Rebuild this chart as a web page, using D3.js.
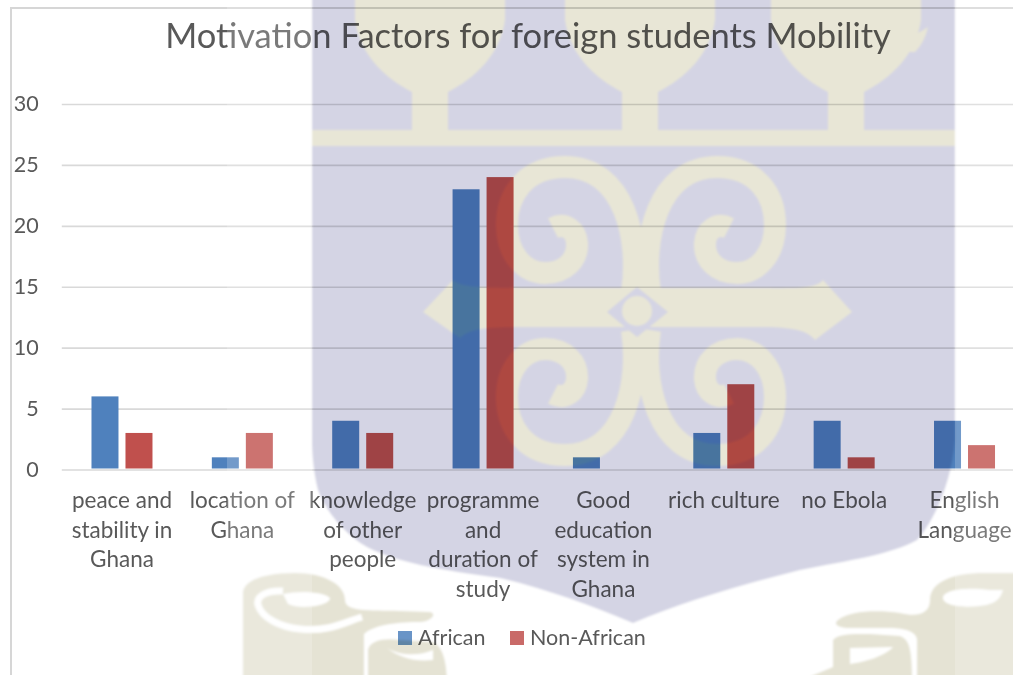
<!DOCTYPE html>
<html><head><meta charset="utf-8">
<script src="https://cdn.jsdelivr.net/npm/d3@7/dist/d3.min.js"></script>
<style>
html,body{margin:0;padding:0;background:#fff;overflow:hidden}
svg{display:block;filter:blur(.45px)}
text{font-family:Lato,"Open Sans",sans-serif}
</style></head><body>
<svg id="c" width="1013" height="675"></svg>
<script>
const chartTitle = "Motivation Factors for foreign students Mobility";
const categories = ["peace and stability in Ghana","location of Ghana","knowledge of other people","programme and duration of study","Good education system in Ghana","rich culture","no Ebola","English Language"];
const categoryLines = [["peace and","stability in","Ghana"],["location of","Ghana"],["knowledge","of other","people"],["programme","and","duration of","study"],["Good","education","system in","Ghana"],["rich culture"],["no Ebola"],["English","Language"]];
const seriesNames = ["African","Non-African"];
const african = [6,1,4,23,1,3,4,4];
const nonAfrican = [3,3,3,24,0,7,1,2];
const yTicks = [0,5,10,15,20,25,30];
const seriesColors = ["#4f81bd","#c0504d"];

const svg = d3.select("#c");
const W = 1013, H = 675;
const LAV = "#d4d4e4", BEI = "#e8e6d6", SCR = "#e5e3d4";

// ---- watermark (decorative crest behind the chart)
svg.append("defs").append("filter").attr("id","soft")
  .attr("x",-0.02).attr("y",-0.02).attr("width",1.04).attr("height",1.04)
  .append("feGaussianBlur").attr("stdDeviation",1.2);
const wm = svg.append("g").attr("filter","url(#soft)");
wm.append("rect").attr("x",-10).attr("y",-10).attr("width",W+20).attr("height",H+20).attr("fill","#fff");

// lower scrolls
const scr = wm.append("g").attr("fill",SCR);
scr.append("path").attr("d","M243 685 L243 592 C245 578 270 573 295 573 C325 573 345 585 345 600 C345 612 370 610 400 611 L430 612 C438 614 430 622 420 622 C400 622 375 624 364 634 L364 685 Z");
scr.append("path").attr("d","M368 685 L368 650 C370 640 385 638 400 640 L432 642 C442 645 447 660 447 685 Z");
scr.append("path").attr("d","M838 620 C850 610 880 610 900 613 C920 618 930 612 930 600 C930 583 950 573 985 573 L1023 573 L1023 685 L917 685 L917 640 C917 632 905 628 890 628 L850 628 C840 628 832 625 838 620 Z");
scr.append("path").attr("d","M833 685 L833 640 C838 634 850 634 870 634 L900 636 C910 640 912 650 912 685 Z");
scr.append("path").attr("d","M790 685 L833 667 L833 685 Z");
const holes = wm.append("g").attr("fill","#fff");
holes.append("path").attr("d","M283 594 C300 590 325 592 330 598 C330 606 300 610 288 604 Z");
holes.append("path").attr("fill","none").attr("stroke","#fff").attr("stroke-width",7)
  .attr("d","M283 591 C265 590 256 597 258 605 C262 618 280 627 300 629 C330 632 345 622 362 617");
holes.append("path").attr("d","M387 648 C400 656 420 656 433 650 L433 660 C415 662 400 658 387 648 Z");
holes.append("path").attr("d","M850 648 L893 647 C885 656 865 662 850 664 Z");
holes.append("path").attr("d","M990 590 C965 587 943 590 943 598 C943 606 965 608 980 606 C995 604 1000 600 1003 590 Z");

// shield
wm.append("path").attr("fill",LAV)
  .attr("d","M312 -10 L955 -10 L955 440 C952 480 935 520 917 540 C890 555 850 560 800 570 C740 585 680 603 633 623 C590 605 550 590 500 578 C440 570 395 562 367 547 C345 535 325 510 318 490 C313 470 312 450 312 440 Z");

// crest inside the shield
const crest = wm.append("g").attr("fill",BEI);
[430,640,846].forEach(cx=>{
  crest.append("path")
    .attr("d",`M${cx-75} -10 L${cx-75} 20 C${cx-70} 55 ${cx-45} 78 ${cx-18} 92 L${cx-18} 132 L${cx+18} 132 L${cx+18} 92 C${cx+45} 78 ${cx+70} 55 ${cx+75} 20 L${cx+75} -10 Z`);
});
crest.append("path").attr("d","M928 27 C915 35 905 40 895 52 L915 52 C922 45 926 36 928 27 Z");
crest.append("rect").attr("x",312).attr("y",130).attr("width",643).attr("height",16);
const spiralD = "M632 292 C640 240 625 167 565 167 C525 167 507 195 507 225 C507 255 525 273 545 273 C565 273 578 260 577 243 C576 230 565 222 553 228";
const spirals = crest.append("g").attr("fill","none").attr("stroke",BEI).attr("stroke-width",22);
spirals.append("path").attr("d",spiralD);
spirals.append("path").attr("d",spiralD).attr("transform","translate(1282,0) scale(-1,1)");
spirals.append("path").attr("d",spiralD).attr("transform","translate(0,622) scale(1,-1)");
spirals.append("path").attr("d",spiralD).attr("transform","translate(1282,622) scale(-1,-1)");
crest.append("path").attr("d","M423 312 L453 280 C460 288 490 288 530 288 L750 288 C790 288 815 290 823 280 L852 312 L815 340 C805 327 780 327 750 327 L520 327 C490 327 470 328 460 338 Z");
wm.append("path").attr("fill",LAV).attr("d","M637 287 L668 312 L637 337 L607 312 Z");
wm.append("circle").attr("cx",637).attr("cy",311).attr("r",15).attr("fill",BEI);

// ---- chart, multiplied over the watermark
const chart = svg.append("g").style("mix-blend-mode","multiply");

const x0 = 61.8, x1 = 1024.7;
const x = d3.scaleBand().domain(categories).range([x0,x1]).padding(0);
const sub = d3.scaleBand().domain(seriesNames).range([0,x.bandwidth()]).paddingInner(0.206).paddingOuter(0.873);
const y = d3.scaleLinear().domain([0,30]).range([469.5,104]);

// frame
chart.append("path").attr("fill","none").attr("stroke","#d6d6d6").attr("stroke-width",2)
  .attr("d",`M${W} 8 L11 8 L11 ${H}`);

// y axis + gridlines
const gy = chart.append("g").attr("transform",`translate(${x0},0)`)
  .call(d3.axisLeft(y).tickValues(yTicks).tickSizeInner(-(W-x0)).tickSizeOuter(0).tickPadding(23));
gy.select(".domain").remove();
gy.selectAll("line").attr("stroke","#d9d9d9").attr("stroke-width",1.6);
gy.selectAll("text").attr("fill","#595959").style("font-size","21.5px").style("font-family","Lato,sans-serif");

// bars
const seriesValues = [african,nonAfrican];
seriesNames.forEach((name,si)=>{
  chart.append("g").selectAll("rect").data(seriesValues[si]).join("rect")
    .attr("x",(d,i)=>x(categories[i])+sub(name))
    .attr("width",sub.bandwidth())
    .attr("y",d=>y(d))
    .attr("height",d=>Math.max(0,y(0)-1-y(d)))
    .attr("fill",seriesColors[si]);
});

// x axis labels
const gx = chart.append("g").attr("transform",`translate(0,${y(0)})`)
  .call(d3.axisBottom(x).tickSize(0).tickPadding(0));
gx.select(".domain").remove();
gx.selectAll(".tick text").each(function(d,i){
  const t = d3.select(this).text(null).attr("y",0).attr("dy",null)
    .attr("fill","#595959").style("font-size","22.5px").style("font-family","Lato,sans-serif");
  categoryLines[i].forEach((ln,k)=>{
    t.append("tspan").attr("x",0).attr("y",38.5+k*29.5).text(ln);
  });
});

// title
chart.append("text").attr("x",528).attr("y",48).attr("text-anchor","middle")
  .attr("fill","#595959").style("font-size","34.5px").text(chartTitle);

// legend
const legendX = [398,510];
const lg = chart.append("g").selectAll("g").data(seriesNames).join("g")
  .attr("transform",(d,i)=>`translate(${legendX[i]},631)`);
lg.append("rect").attr("width",14).attr("height",14).attr("fill",(d,i)=>seriesColors[i]).attr("fill-opacity",.85);
lg.append("text").attr("x",20).attr("y",14).attr("fill","#595959").style("font-size","21.5px").text(d=>d);

// ---- pale fade bands lying over the scan
[[227,85],[955,58]].forEach(b=>{
  svg.append("rect").attr("x",b[0]).attr("y",0).attr("width",b[1]).attr("height",H)
    .attr("fill","#fff").attr("opacity",.2);
});
</script>
</body></html>
